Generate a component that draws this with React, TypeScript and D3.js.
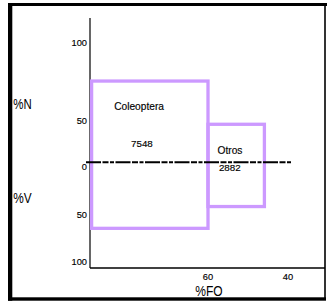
import React from "react";
import * as d3 from "d3";

const categories = ["Coleoptera", "Otros"];
const counts = [7548, 2882];
const foStart = [89.1, 60];
const foEnd = [60, 45.9];
const pctN = [72.4, 41];
const pctV = [69.5, 46.4];
const yTickValues = [100, 50, 0, -50, -100];
const yTickLabels = ["100", "50", "0", "50", "100"];
const xTickValues = [60, 40];

const W = 331;
const H = 305;
const FONT = "'Liberation Sans', Arial, sans-serif";
const PURPLE = "#CC99FF";

export default function App() {
  const x = d3.scaleLinear().domain([90, 30]).range([88, 328]);
  const y = d3.scaleLinear().domain([100, 50, 0, -50, -100]).range([38, 116, 162, 210, 257]);
  const axisX = x(89.5);
  const axisY = 268;

  return (
    <svg width={W} height={H} style={{ position: "absolute", left: 0, top: 0, background: "#fff" }} fontFamily={FONT}>
      <rect x={0} y={0} width={W} height={H} fill="#fff" />
      {/* frame */}
      <rect x={8} y={3} width={319} height={3} fill="#000" />
      <rect x={8} y={3} width={4.3} height={297.7} fill="#000" />
      <rect x={8} y={297.3} width={318} height={3.4} fill="#000" />
      <rect x={324.2} y={3} width={1.6} height={296} fill="#000" />

      {/* axes */}
      <line x1={axisX} x2={axisX} y1={18} y2={axisY} stroke="#000" strokeWidth={1.2} />
      <line x1={axisX} x2={325} y1={axisY} y2={axisY} stroke="#000" strokeWidth={1.3} />

      {/* y tick labels */}
      {yTickValues.map((v, i) => (
        <text key={i} x={87} y={y(v) + 8.4} fontSize={9.3} textAnchor="end" fill="#000" stroke="#000" strokeWidth={0.15}>
          {yTickLabels[i]}
        </text>
      ))}
      {/* x tick labels */}
      {xTickValues.map((v, i) => (
        <text key={i} x={x(v)} y={280} fontSize={9.3} textAnchor="middle" fill="#000" stroke="#000" strokeWidth={0.15}>
          {String(v)}
        </text>
      ))}

      {/* axis titles */}
      <text x={13.3} y={109} fontSize={14.5} textLength={18.4} lengthAdjust="spacingAndGlyphs" fill="#000">%N</text>
      <text x={13.3} y={202.7} fontSize={14.5} textLength={18.4} lengthAdjust="spacingAndGlyphs" fill="#000">%V</text>
      <text x={195.3} y={295.6} fontSize={14.5} textLength={27.4} lengthAdjust="spacingAndGlyphs" fill="#000">%FO</text>

      {/* boxes */}
      {categories.map((c, i) => (
        <rect
          key={c}
          x={x(foStart[i])}
          y={y(pctN[i])}
          width={x(foEnd[i]) - x(foStart[i])}
          height={y(-pctV[i]) - y(pctN[i])}
          fill="none"
          stroke={PURPLE}
          strokeWidth={3.3}
        />
      ))}

      {/* zero line */}
      <line
        x1={86}
        x2={291}
        y1={y(0) + 0.3}
        y2={y(0) + 0.3}
        stroke="#000"
        strokeWidth={2}
        strokeDasharray="15 1.5 6 1.5 4 1.5"
      />

      {/* labels */}
      <text x={x(foStart[0]) + 47.5} y={109.8} fontSize={10.2} textAnchor="middle" fill="#000" stroke="#000" strokeWidth={0.15}>{categories[0]}</text>
      <text x={x(foStart[0]) + 50.3} y={147.3} fontSize={9.8} textAnchor="middle" fill="#000" stroke="#000" strokeWidth={0.15}>{String(counts[0])}</text>
      <text x={x(foStart[1]) + 22} y={154} fontSize={10.2} textAnchor="middle" fill="#000" stroke="#000" strokeWidth={0.15}>{categories[1]}</text>
      <text x={x(foStart[1]) + 21.8} y={170.7} fontSize={9.8} textAnchor="middle" fill="#000" stroke="#000" strokeWidth={0.15}>{String(counts[1])}</text>
    </svg>
  );
}
